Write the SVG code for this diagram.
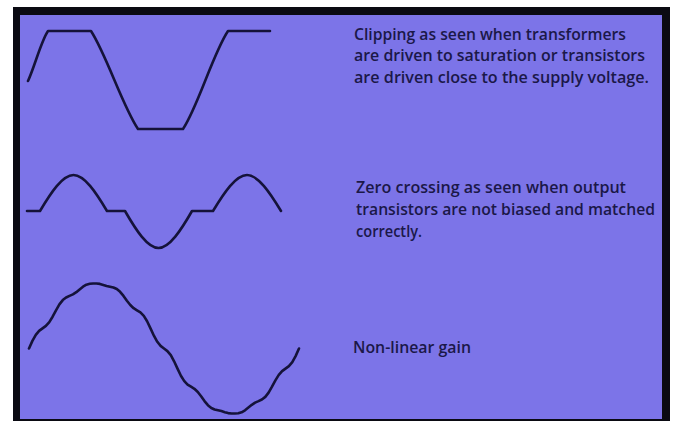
<svg xmlns="http://www.w3.org/2000/svg" width="675" height="423" viewBox="0 0 675 423">
<style>
.wave{fill:none;stroke:#15133a;stroke-width:2.6;stroke-linejoin:round;stroke-linecap:round}
.lbl{font-family:"Open Sans","Liberation Sans",sans-serif;font-weight:600;font-size:16px;fill:#1b1848}
</style>
<rect x="0" y="0" width="675" height="423" fill="#ffffff"/>
<rect x="13" y="7" width="657" height="414" fill="#0a0a12"/>
<rect x="20" y="15" width="642" height="404" fill="#7c74e8"/>
<g id="clipping">
<path class="wave" d="M28,81 C34.7,66.4 41.3,40.6 48,31 L91,31 C106.7,55.3 122.3,105.5 138,129 L183,129 C198,106.5 213,53.5 228,31 L270,31"/>
<text class="lbl" x="354" y="39.5" textLength="272" lengthAdjust="spacingAndGlyphs">Clipping as seen when transformers</text>
<text class="lbl" x="354" y="61" textLength="291" lengthAdjust="spacingAndGlyphs">are driven to saturation or transistors</text>
<text class="lbl" x="354" y="82.5" textLength="295" lengthAdjust="spacingAndGlyphs">are driven close to the supply voltage.</text>
</g>
<g id="zero-crossing">
<path class="wave" d="M27,211 L40,211 C50.9,192.6 62.5,175 73.5,175 C84.5,175 96.1,192.6 107,211 L125,211 C135.9,230 147.5,248 158.5,248 C169.5,248 181.1,230 192,211 L213,211 C224.1,192.6 235.9,175 247,175 C258.1,175 269.9,192.6 281,211"/>
<text class="lbl" x="356" y="193" textLength="270" lengthAdjust="spacingAndGlyphs">Zero crossing as seen when output</text>
<text class="lbl" x="356" y="215" textLength="299" lengthAdjust="spacingAndGlyphs">transistors are not biased and matched</text>
<text class="lbl" x="356" y="237" textLength="66" lengthAdjust="spacingAndGlyphs">correctly.</text>
</g>
<g id="non-linear">
<polyline class="wave" points="29,348.5 32.4,340.9 35.8,334.9 39.1,330.9 42.5,328.4 45.9,325.9 49.3,322.1 52.6,316.7 56,310.3 59.4,304.4 62.8,300.1 66.1,297.5 69.5,295.9 72.9,294.4 76.3,292.2 79.6,289.4 83,286.7 86.4,284.7 89.8,283.8 93.1,283.5 96.5,283.5 99.9,283.9 103.3,284.9 106.6,285.9 110,286.7 113.4,287.5 116.8,289 120.1,291.8 123.5,295.9 126.9,300.7 130.3,305 133.6,308.2 137,310.3 140.4,312.4 143.8,315.9 147.1,321.3 150.5,328.4 153.9,335.7 157.3,341.8 160.6,345.9 164,348.5 167.4,351.1 170.8,355.2 174.1,361.3 177.5,368.6 180.9,375.7 184.3,381.1 187.6,384.6 191,386.7 194.4,388.8 197.8,392 201.1,396.3 204.5,401.1 207.9,405.2 211.3,408 214.6,409.5 218,410.3 221.4,411.1 224.8,412.2 228.1,413.1 231.5,413.5 234.9,413.5 238.3,413.3 241.6,412.3 245,410.3 248.4,407.6 251.8,404.8 255.1,402.6 258.5,401.1 261.9,399.5 265.3,396.9 268.6,392.6 272,386.7 275.4,380.4 278.8,374.9 282.1,371.1 285.5,368.6 288.9,366.1 292.3,362.1 295.6,356.1 299,348.5"/>
<text class="lbl" x="353" y="352.5" textLength="118" lengthAdjust="spacingAndGlyphs">Non-linear gain</text>
</g>
</svg>
